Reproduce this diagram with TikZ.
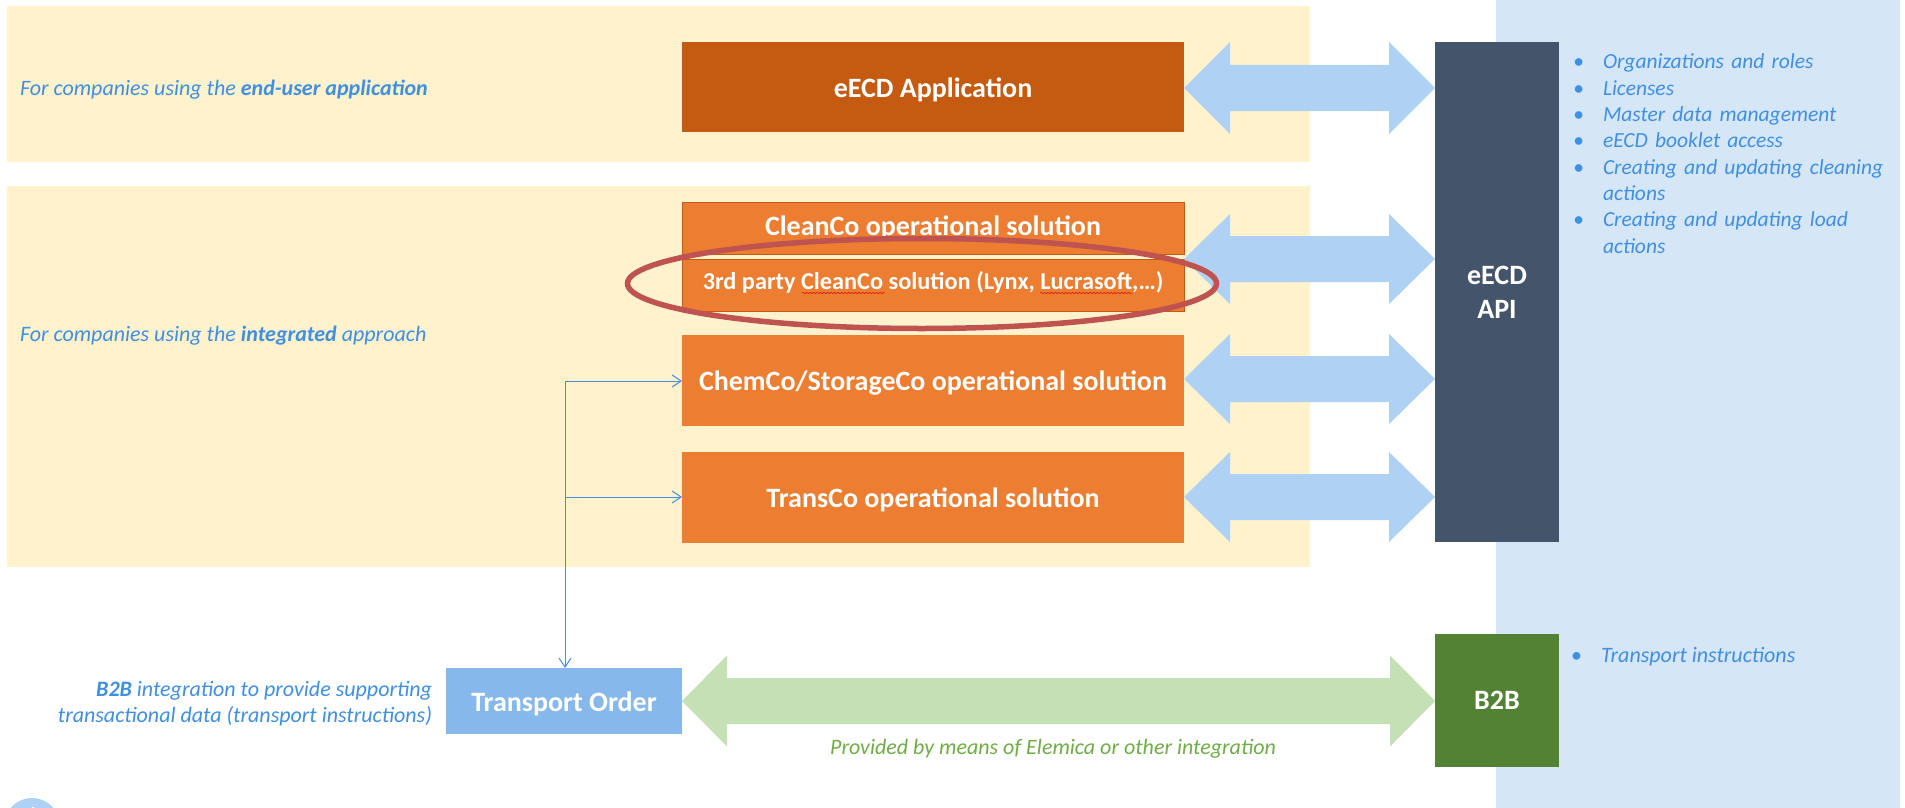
\documentclass[tikz,border=0pt]{standalone}
\usepackage{fontspec}
\setmainfont{Carlito}
\usetikzlibrary{calc,shapes.geometric,arrows.meta,decorations.pathmorphing}
\definecolor{yel}{HTML}{FFF2CC}
\definecolor{pane}{HTML}{D5E6F7}
\definecolor{org}{HTML}{ED7D31}
\definecolor{dorg}{HTML}{C55A11}
\definecolor{navy}{HTML}{44546A}
\definecolor{grn}{HTML}{548235}
\definecolor{skyb}{HTML}{87B8EB}
\definecolor{barw}{HTML}{AFD2F4}
\definecolor{barg}{HTML}{C5E0B4}
\definecolor{txtb}{HTML}{3F8FE2}
\definecolor{txtg}{HTML}{70AD47}
\definecolor{ring}{HTML}{BE5350}
\tikzset{
  solbox/.style={fill=org,draw=none,inner sep=0,outer sep=0,text=white,font=\fontsize{28}{31}\selectfont\bfseries,text height=21pt,text depth=0pt,minimum width=502pt,minimum height=91pt},
  cleanbox/.style={solbox,draw=dorg,line width=1pt,minimum height=52pt},
  apibox/.style={inner sep=0,outer sep=0,text=white,font=\fontsize{28}{34}\selectfont\bfseries,align=center,minimum width=124pt},
  note/.style={inner sep=0,outer sep=0,text=txtb,font=\fontsize{22}{26}\selectfont\itshape},
  link/.style={draw=txtb,line width=1pt,-{Straight Barb[length=9pt,width=12pt,line width=1pt]}},
  squig/.style={draw=red!85!black,line width=.45pt,decorate,decoration={snake,amplitude=.7pt,segment length=3.5pt}}
}
\newcommand{\blt}{\leavevmode\llap{\normalfont\textbullet\hspace{19pt}}}
% left node, right node, centre y, half head, half shaft, head length, colour
\newcommand{\blockarrow}[7]{%
  \fill[#7]
    (#1.east |- 0,#3) -- ($(#1.east |- 0,#3)+(#6,-#4)$) -- ($(#1.east |- 0,#3)+(#6,-#5)$)
    -- ($(#2.west |- 0,#3)+(-#6,-#5)$) -- ($(#2.west |- 0,#3)+(-#6,-#4)$) -- (#2.west |- 0,#3)
    -- ($(#2.west |- 0,#3)+(-#6,#4)$) -- ($(#2.west |- 0,#3)+(-#6,#5)$)
    -- ($(#1.east |- 0,#3)+(#6,#5)$) -- ($(#1.east |- 0,#3)+(#6,#4)$) -- cycle;}
\begin{document}
\begin{tikzpicture}[x=1pt,y=-1pt]
\useasboundingbox (0,0) rectangle (1905,808);
\fill[white] (0,0) rectangle (1905,808);
% backgrounds
\fill[pane] (1496,0) rectangle (1900,808);
\fill[yel] (7,6) rectangle (1310,162);
\fill[yel] (7,186) rectangle (1310,567);
\fill[barw] (32,826) circle (28);
\fill[white] (33,808) circle (1.5);
% boxes
\node[solbox,fill=dorg,minimum height=90pt] (app) at (933,87) {eECD Application};
\node[cleanbox] (clean) at (933,228) {};
\node[cleanbox] (third) at (933,285) {};
\node[solbox] (chem) at (933,380) {ChemCo/StorageCo operational solution};
\node[solbox] (trans) at (933,497) {TransCo operational solution};
\node[apibox,fill=navy,minimum height=500pt] (api) at (1497,292) {eECD\\API};
\node[apibox,fill=grn,minimum height=133pt] (b2b) at (1497,700.5) {B2B};
\node[inner sep=0,outer sep=0,fill=skyb,text=white,font=\fontsize{28}{31}\selectfont\bfseries,text height=21pt,text depth=0pt,minimum width=236pt,minimum height=66pt] (order) at (564,701) {Transport Order};
% box texts
\node[inner sep=0,text=white,font=\fontsize{28}{31}\selectfont\bfseries,anchor=base] (cleantext) at (933,235) {CleanCo operational solution};
\node[inner sep=0,text=white,font=\fontsize{24.3}{27}\selectfont\bfseries,anchor=base] (thirdtext) at (933,289) {3rd party CleanCo solution (Lynx, Lucrasoft,…)};
% block arrows
\blockarrow{app}{api}{88}{46}{23}{46}{barw}
\blockarrow{clean}{api}{259}{45}{23}{46}{barw}
\blockarrow{chem}{api}{379}{45}{23}{46}{barw}
\blockarrow{trans}{api}{497}{45}{23}{46}{barw}
\blockarrow{order}{b2b}{701}{45.5}{23}{45}{barg}
% spelling marks
\draw[squig] (802,293) -- (885,293);
\draw[squig] (1040,293) -- (1133,293);
% highlight ring
\node[ellipse,draw=ring,line width=5.5pt,inner sep=0,outer sep=0,minimum width=589pt,minimum height=90pt] (mark) at (922,283.5) {};
% thin connectors
\coordinate (corner) at (565,381);
\coordinate (tee) at (565,497);
\draw[link] (corner) -- (chem.west |- corner);
\draw[link] (tee) -- (trans.west |- tee);
\draw[link] (corner) -- (order.north -| corner);
% notes
\node[note,anchor=base west] (n1) at (20,95) {For companies using the \textbf{end-user application}};
\node[note,anchor=base west] (n2) at (20,341) {For companies using the \textbf{integrated} approach};
\node[note,anchor=base east] (n3) at (432,696) {\textbf{B2B} integration to provide supporting};
\node[note,anchor=base east] (n4) at (432,722) {transactional data (transport instructions)};
\node[note,anchor=north west,align=left,text width=295pt,font=\fontsize{21.5}{26.3}\selectfont\itshape] (list) at (1603,54) {%
\blt Organizations and roles\\
\blt Licenses\\
\blt Master data management\\
\blt eECD booklet access\\
\blt Creating and updating cleaning\\
actions\\
\blt Creating and updating load\\
actions};
\node[note,anchor=base west] (n5) at (1601,662) {\blt Transport instructions};
\node[note,text=txtg,anchor=base] (n6) at (1053,754) {Provided by means of Elemica or other integration};
\end{tikzpicture}
\end{document}
